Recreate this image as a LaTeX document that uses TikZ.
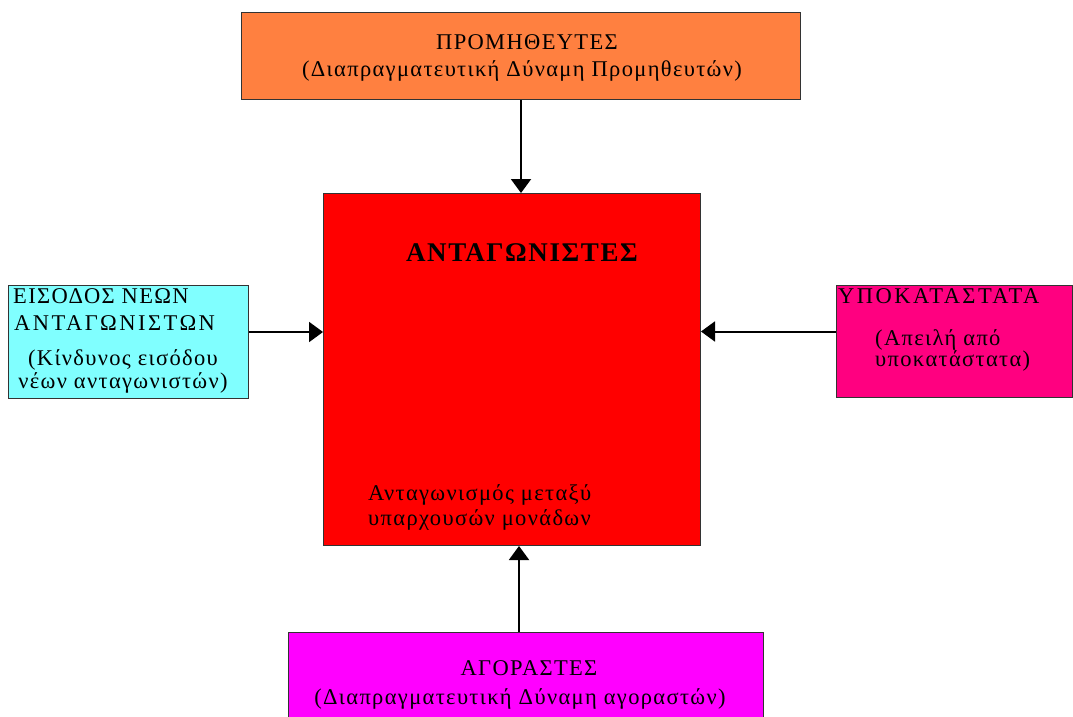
\documentclass[tikz,border=0pt]{standalone}
\usepackage{fontspec}
\setmainfont{Liberation Serif}[LetterSpace=6]
\usetikzlibrary{arrows.meta}

\definecolor{suppfill}{HTML}{FF8040}
\definecolor{compfill}{HTML}{FF0000}
\definecolor{entryfill}{HTML}{80FFFF}
\definecolor{substfill}{HTML}{FF0080}
\definecolor{buyfill}{HTML}{FF00FF}

\tikzset{spaced/.style={font=\fontsize{22.5}{26}\selectfont\addfontfeatures{LetterSpace=11}}}

\begin{document}
\begin{tikzpicture}[x=1pt, y=-1pt]
        \clip (0,0) rectangle (1073,717);
        \begin{scope}[every node/.style={draw=black!80, line width=1pt, inner sep=0pt, anchor=north west}]
            \node[fill=suppfill, minimum width=559pt, minimum height=87pt] (supp) at (241,12) {};
            \node[fill=compfill, minimum width=377pt, minimum height=352pt] (comp) at (323,193) {};
            \node[fill=entryfill, minimum width=240pt, minimum height=113pt] (entry) at (8,285) {};
            \node[fill=substfill, minimum width=236pt, minimum height=112pt] (subst) at (836,285) {};
            \node[fill=buyfill, minimum width=475pt, minimum height=100pt] (buy) at (288,632) {};
        \end{scope}
        \begin{scope}[every node/.style={font=\fontsize{22.5}{26}\selectfont, inner sep=0pt}]
            \node[anchor=base] (supp-a) at (527,49) {ΠΡΟΜΗΘΕΥΤΕΣ};
            \node[anchor=base] (supp-b) at (522,77) {(Διαπραγματευτική Δύναμη Προμηθευτών)};
            \node[anchor=base, font=\fontsize{27}{32}\selectfont\bfseries] (comp-a) at (522,261) {ΑΝΤΑΓΩΝΙΣΤΕΣ};
            \node[anchor=base west] (comp-b) at (368,500) {Ανταγωνισμός μεταξύ};
            \node[anchor=base west] (comp-c) at (368,525) {υπαρχουσών μονάδων};
            \node[anchor=base west] (entry-a) at (13,303) {ΕΙΣΟΔΟΣ ΝΕΩΝ};
            \node[anchor=base west, spaced] (entry-b) at (14,330) {ΑΝΤΑΓΩΝΙΣΤΩΝ};
            \node[anchor=base] (entry-c) at (123,365) {(Κίνδυνος εισόδου};
            \node[anchor=base] (entry-d) at (123,388) {νέων ανταγωνιστών)};
            \node[anchor=base west, spaced] (subst-a) at (838,303) {ΥΠΟΚΑΤΑΣΤΑΤΑ};
            \node[anchor=base west] (subst-b) at (875,345) {(Απειλή από};
            \node[anchor=base west] (subst-c) at (875,366) {υποκατάστατα)};
            \node[anchor=base] (buy-a) at (529,675) {ΑΓΟΡΑΣΤΕΣ};
            \node[anchor=base] (buy-b) at (520,704) {(Διαπραγματευτική Δύναμη αγοραστών)};
        \end{scope}
        \begin{scope}[every path/.style={-{Triangle[width=20pt,length=14pt]}, line width=2pt}]
            \draw (supp.south) -- (supp.south |- comp.north);
            \draw ([xshift=-7pt]buy.north) -- ([xshift=-7pt]buy.north |- comp.south);
            \draw ([yshift=10pt]entry.east) -- ([yshift=10pt]entry.east -| comp.west);
            \draw ([yshift=10pt]subst.west) -- ([yshift=10pt]subst.west -| comp.east);
        \end{scope}
    \end{tikzpicture}
\end{document}
